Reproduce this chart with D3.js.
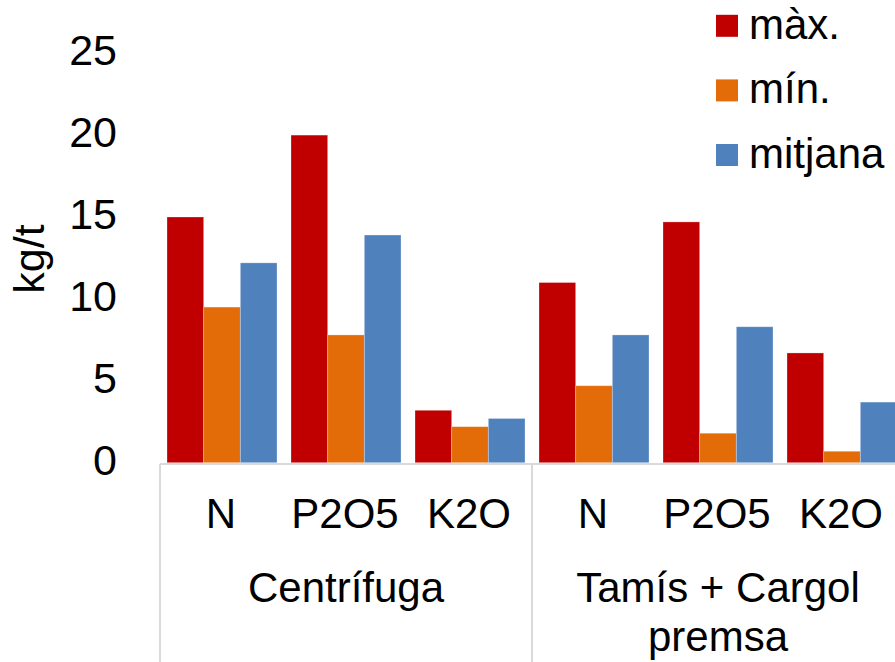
<!DOCTYPE html>
<html>
<head>
<meta charset="utf-8">
<script src="https://cdn.jsdelivr.net/npm/d3@7"></script>
<style>
  html, body { margin: 0; padding: 0; background: #fff; }
  svg { display: block; font-family: "Liberation Sans", Arial, sans-serif; }
</style>
</head>
<body>
<svg id="chart" width="895" height="662"></svg>
<script>
// ---- data ----
const groups = ["Centrífuga", "Tamís + Cargol premsa"];
const groupLines = [["Centrífuga"], ["Tamís + Cargol", "premsa"]];
const nutrients = ["N", "P2O5", "K2O"];
const seriesNames = ["màx.", "mín.", "mitjana"];
const seriesColors = ["#C00000", "#E36C09", "#4F81BD"];
const maxValues  = [15.0, 20.0, 3.2, 11.0, 14.7, 6.7];
const minValues  = [9.5, 7.8, 2.2, 4.7, 1.8, 0.7];
const meanValues = [12.2, 13.9, 2.7, 7.8, 8.3, 3.7];
const yTicks = [0, 5, 10, 15, 20, 25];
const yLabel = "kg/t";

// ---- build ----
const seriesValues = [maxValues, minValues, meanValues];
const cats = [];
groups.forEach((g, gi) => nutrients.forEach((n, ni) => cats.push({ key: gi + "|" + n, group: gi, label: n, idx: gi * nutrients.length + ni })));

const svg = d3.select("#chart");
const plotLeft = 160, plotRight = 904, plotTop = 53.2, plotBottom = 462.7;

const x = d3.scaleBand().domain(cats.map(c => c.key)).range([plotLeft, plotRight]).paddingInner(0).paddingOuter(0);
const bw = x.bandwidth();
const gapFrac = 0.0565;
const xs = d3.scaleBand().domain(seriesNames).range([bw * gapFrac, bw * (1 - gapFrac)]).padding(0);
const y = d3.scaleLinear().domain([0, 25]).range([plotBottom, plotTop]);
const color = d3.scaleOrdinal().domain(seriesNames).range(seriesColors);

// bars
const barData = [];
cats.forEach(c => seriesNames.forEach((s, si) => barData.push({ cat: c.key, series: s, value: seriesValues[si][c.idx] })));
svg.append("g").selectAll("rect").data(barData).join("rect")
  .attr("x", d => x(d.cat) + xs(d.series))
  .attr("width", xs.bandwidth())
  .attr("y", d => y(d.value))
  .attr("height", d => y(0) - y(d.value))
  .attr("fill", d => color(d.series))
  .attr("stroke", "#ffffff")
  .attr("stroke-opacity", 0.35)
  .attr("stroke-width", 0.8);

// category axis line and group separators
const axisY = plotBottom + 1.2;
svg.append("line").attr("x1", plotLeft).attr("x2", plotRight).attr("y1", axisY).attr("y2", axisY)
  .attr("stroke", "#D9D9D9").attr("stroke-width", 2);
const groupWidth = bw * nutrients.length;
const sepXs = d3.range(groups.length + 1).map(i => plotLeft + i * groupWidth);
svg.append("g").selectAll("line").data(sepXs).join("line")
  .attr("x1", d => d).attr("x2", d => d)
  .attr("y1", axisY).attr("y2", 662)
  .attr("stroke", "#D9D9D9").attr("stroke-width", 2);

// y tick labels
svg.append("g").selectAll("text").data(yTicks).join("text")
  .attr("x", 117)
  .attr("y", d => y(d) + 12)
  .attr("text-anchor", "end")
  .attr("font-size", 43)
  .attr("fill", "#000")
  .text(d => d);

// y axis title
svg.append("text")
  .attr("transform", "translate(44,259) rotate(-90)")
  .attr("text-anchor", "middle")
  .attr("font-size", 43)
  .attr("fill", "#000")
  .text(yLabel);

// nutrient labels
svg.append("g").selectAll("text").data(cats).join("text")
  .attr("x", d => x(d.key) + bw / 2 - 1)
  .attr("y", 528)
  .attr("text-anchor", "middle")
  .attr("font-size", 42)
  .attr("fill", "#000")
  .text(d => d.label);

// group labels
const gl = svg.append("g").selectAll("text").data(groupLines).join("text")
  .attr("x", (d, i) => plotLeft + (i + 0.5) * groupWidth)
  .attr("y", 602)
  .attr("text-anchor", "middle")
  .attr("font-size", 42)
  .attr("fill", "#000");
gl.selectAll("tspan").data(d => d).join("tspan")
  .attr("x", function () { return d3.select(this.parentNode).attr("x"); })
  .attr("dy", (d, i) => i === 0 ? 0 : 49)
  .text(d => d);

// legend
const legend = svg.append("g").selectAll("g").data(seriesNames).join("g")
  .attr("transform", (d, i) => `translate(716, ${25.8 + i * 64.6})`);
legend.append("rect").attr("x", 0).attr("y", -11).attr("width", 22).attr("height", 22)
  .attr("fill", d => color(d));
legend.append("text").attr("x", 33).attr("y", 13).attr("font-size", 42).attr("fill", "#000").text(d => d);
</script>
</body>
</html>
